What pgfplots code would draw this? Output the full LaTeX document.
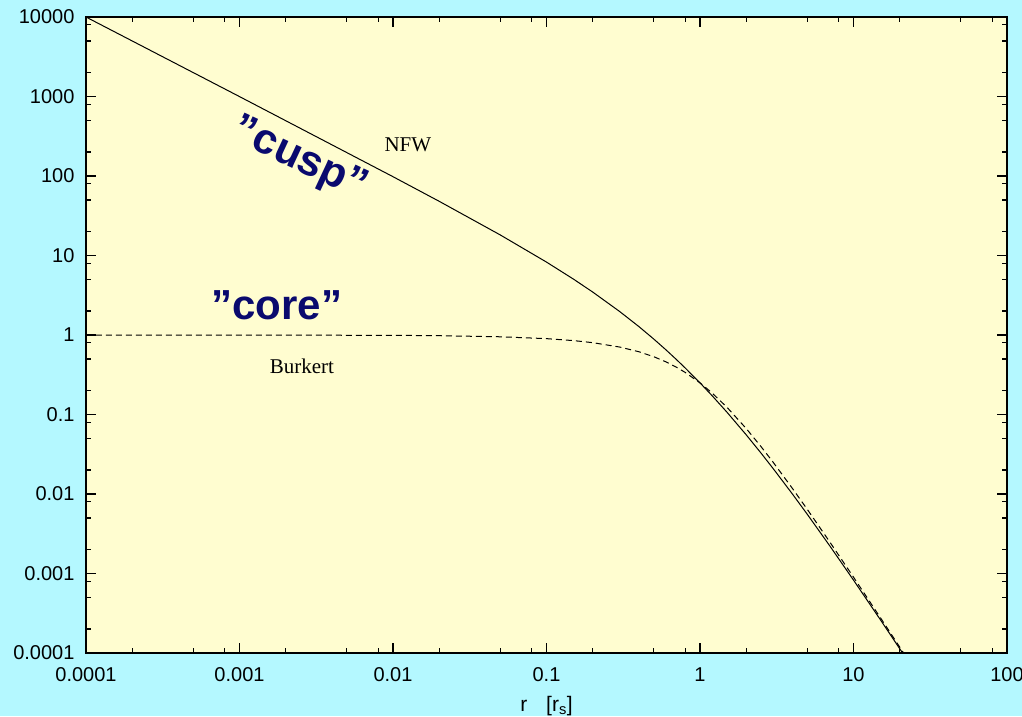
\documentclass[border=0pt]{standalone}
\usepackage{fontspec}
\setmainfont{Liberation Sans}
\newfontfamily\seriffont{Liberation Serif}
\usepackage{pgfplots}
\pgfplotsset{compat=1.18}
\definecolor{bgcyan}{RGB}{180,248,255}
\definecolor{plotyellow}{RGB}{255,253,208}
\definecolor{navy}{RGB}{10,10,110}
\begin{document}
\begin{tikzpicture}
\useasboundingbox (-86pt,-63pt) rectangle (936pt,653pt);
\fill[bgcyan] (-86pt,-63pt) rectangle (936pt,653pt);
\clip (-86pt,-63pt) rectangle (936pt,653pt);
\begin{axis}[
  at={(0pt,0pt)}, anchor=south west,
  scale only axis, width=921pt, height=636pt,
  xmode=log, ymode=log,
  xmin=1e-4, xmax=100, ymin=1e-4, ymax=1e4,
  axis background/.style={fill=plotyellow},
  axis line style={line width=2pt},
  tick style={line width=1.2pt, black},
  major tick length=10pt, minor tick length=5pt,
  tick align=inside,
  xtick={1e-4,1e-3,0.01,0.1,1,10,100},
  xticklabels={0.0001,0.001,0.01,0.1,1,10,100},
  ytick={1e-4,1e-3,0.01,0.1,1,10,100,1000,10000},
  yticklabels={0.0001,0.001,0.01,0.1,1,10,100,1000,10000},
  minor xtick={2e-4,5e-4,8e-4,2e-3,5e-3,8e-3,0.02,0.05,0.08,0.2,0.5,0.8,2,5,8,20,50,80},
  minor ytick={2e-4,5e-4,8e-4,2e-3,5e-3,8e-3,0.02,0.05,0.08,0.2,0.5,0.8,2,5,8,20,50,80,200,500,800,2000,5000,8000},
  ticklabel style={font=\fontsize{20}{24}\selectfont},
  xticklabel style={yshift=-11pt},
  yticklabel style={xshift=-8pt},
  /pgf/number format/assume math mode=true,
  xlabel={r\hspace{0.9em}[r\textsubscript{s}]},
  xlabel style={font=\fontsize{21}{24}\selectfont, at={(rel axis cs:0.5,0)}, anchor=base, yshift=-58pt},
]
\addplot[black, line width=1pt] coordinates {
(1e-4,9998) (2e-4,4998) (1e-3,998.0) (0.01,98.03) (0.02,48.06) (0.05,18.14)
(0.1,8.264) (0.15,5.041) (0.2,3.472) (0.3,1.972) (0.4,1.276) (0.5,0.8889)
(0.6,0.6510) (0.7,0.4943) (0.8,0.3858) (1,0.25) (1.2,0.1722) (1.5,0.1067)
(2,0.05556) (2.5,0.03265) (3,0.02083) (4,0.01) (5,0.005556) (7,0.002232)
(10,8.264e-4) (15,2.604e-4) (20,1.134e-4) (21,9.84e-5)
};
\addplot[black, line width=1pt, dash pattern=on 6pt off 4pt] coordinates {
(1e-4,0.9999) (1e-3,0.999) (0.01,0.9900) (0.02,0.9800) (0.05,0.9500)
(0.1,0.9001) (0.15,0.8504) (0.2,0.8013) (0.3,0.7057) (0.4,0.6158) (0.5,0.5333)
(0.6,0.4596) (0.7,0.3948) (0.8,0.3388) (1,0.25) (1.2,0.1863) (1.5,0.1231)
(2,0.06667) (2.5,0.03941) (3,0.025) (4,0.01176) (5,0.006410) (7,0.0025)
(10,9.001e-4) (15,2.765e-4) (20,1.1875e-4) (22,8.96e-5)
};
\node[font=\seriffont\fontsize{21}{24}\selectfont] at (axis cs:0.0125,245) {NFW};
\node[font=\seriffont\fontsize{21}{24}\selectfont] at (axis cs:0.00255,0.40) {Burkert};
\node[font=\bfseries\fontsize{42}{50}\selectfont, text=navy] at (axis cs:0.00175,2.38) {”core”};
\node[font=\bfseries\fontsize{43}{50}\selectfont, text=navy, rotate=-25] at (axis cs:0.00245,160) {”cusp”};
\end{axis}
\end{tikzpicture}
\end{document}
